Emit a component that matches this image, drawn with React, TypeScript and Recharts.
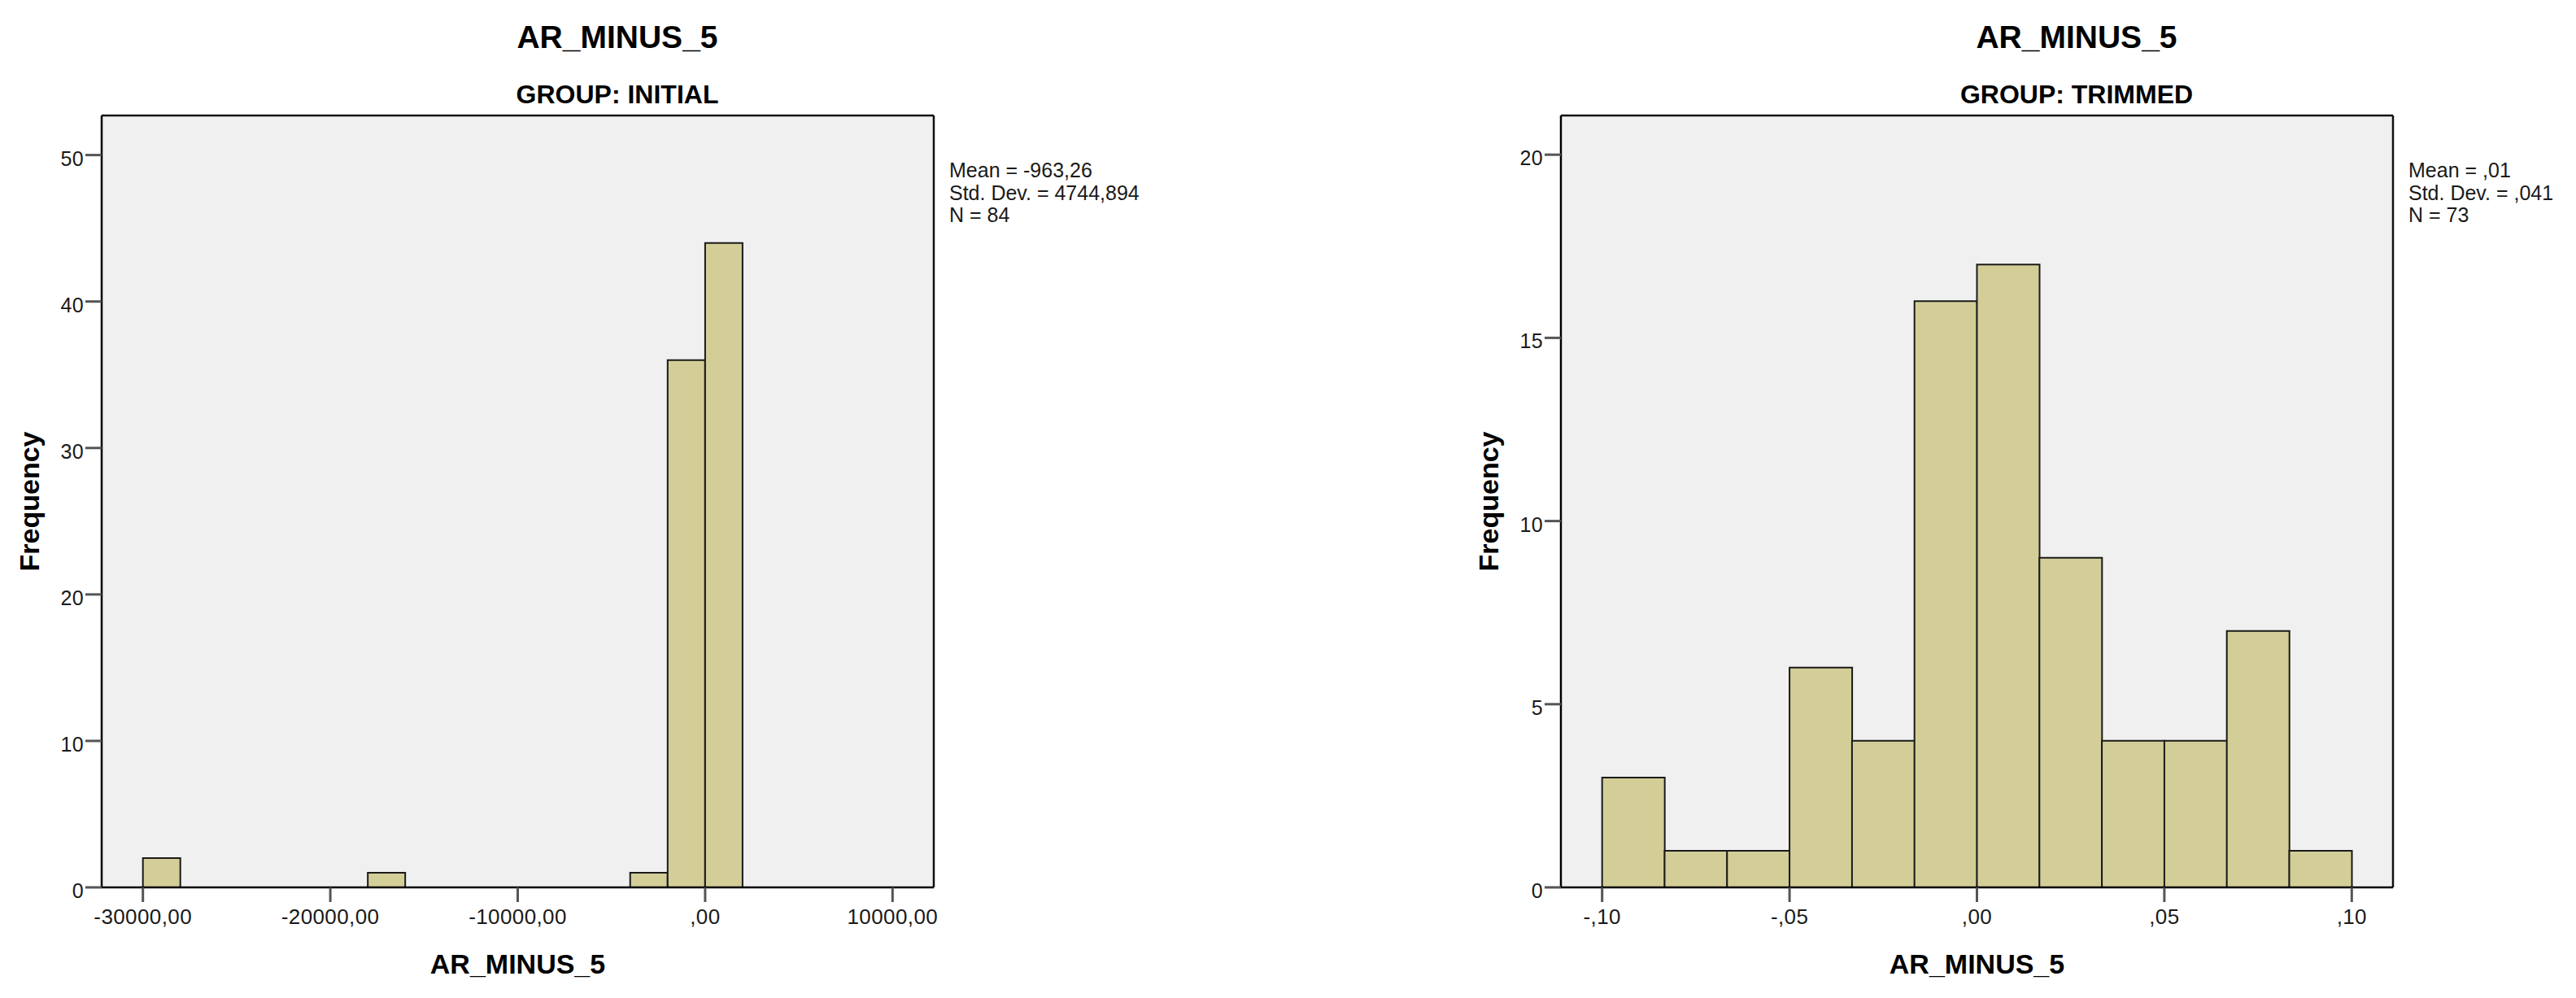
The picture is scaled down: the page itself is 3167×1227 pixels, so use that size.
import React from 'react';
import { BarChart, Bar, XAxis, YAxis, CartesianGrid } from 'recharts';

// ---- Data: GROUP INITIAL ----
const initialBinCenters = [-29000, -27000, -25000, -23000, -21000, -19000, -17000, -15000, -13000, -11000, -9000, -7000, -5000, -3000, -1000, 1000];
const initialCounts = [2, 0, 0, 0, 0, 0, 1, 0, 0, 0, 0, 0, 0, 1, 36, 44];
const initialXTicks = [-30000, -20000, -10000, 0, 10000];
const initialYTicks = [0, 10, 20, 30, 40, 50];
const initialStats = ['Mean = -963,26', 'Std. Dev. = 4744,894', 'N = 84'];

// ---- Data: GROUP TRIMMED ----
const trimmedBinCenters = [-0.091667, -0.075, -0.058333, -0.041667, -0.025, -0.008333, 0.008333, 0.025, 0.041667, 0.058333, 0.075, 0.091667];
const trimmedCounts = [3, 1, 1, 6, 4, 16, 17, 9, 4, 4, 7, 1];
const trimmedXTicks = [-0.1, -0.05, 0, 0.05, 0.1];
const trimmedYTicks = [0, 5, 10, 15, 20];
const trimmedStats = ['Mean = ,01', 'Std. Dev. = ,041', 'N = 73'];

const W = 1560;
const H = 1227;
const PLOT_L = 125;
const PLOT_T = 142;
const PLOT_R = 1148;
const PLOT_B = 1091;
const XAXIS_H = 60;
const FONT = '"Liberation Sans", Arial, Helvetica, sans-serif';

function spssFormat(v: number, decimals: number): string {
  const neg = v < 0 && Math.abs(v) > 1e-12;
  let s = Math.abs(v).toFixed(decimals).replace('.', ',');
  if (s.startsWith('0,')) s = s.slice(1);
  return (neg ? '-' : '') + s;
}

function XTick(props: any) {
  const { x, y, payload, decimals } = props;
  return (
    <text x={x} y={y + 27} textAnchor="middle" fontFamily={FONT} fontSize={26} fill="#1a1a1a" letterSpacing={0.4}>
      {spssFormat(payload.value, decimals)}
    </text>
  );
}

function YTick(props: any) {
  const { x, y, payload } = props;
  return (
    <text x={x} y={y + 13} textAnchor="end" fontFamily={FONT} fontSize={25} fill="#1a1a1a" letterSpacing={0.4}>
      {String(payload.value)}
    </text>
  );
}

type HistProps = {
  left: number;
  centers: number[];
  counts: number[];
  xDomain: [number, number];
  yDomain: [number, number];
  xTicks: number[];
  yTicks: number[];
  decimals: number;
  subtitle: string;
  stats: string[];
};

function Histogram(p: HistProps) {
  const data = p.centers.map((c, i) => ({ x: c, count: p.counts[i] }));
  const plotCx = (PLOT_L + PLOT_R) / 2;
  const plotCy = (PLOT_T + PLOT_B) / 2;
  return (
    <div style={{ position: 'absolute', left: p.left, top: 0, width: W, height: H }}>
      <BarChart
        width={W}
        height={H}
        data={data}
        margin={{ top: PLOT_T, right: W - PLOT_R, bottom: H - PLOT_B - XAXIS_H, left: 0 }}
        barCategoryGap={0}
        barGap={0}
      >
        <CartesianGrid
          fill="#F0F0F0"
          stroke="#111"
          strokeWidth={2.5}
          horizontalPoints={[PLOT_T]}
          verticalPoints={[PLOT_R]}
        />
        <XAxis
          dataKey="x"
          type="number"
          domain={p.xDomain}
          allowDataOverflow
          ticks={p.xTicks}
          interval={0}
          height={XAXIS_H}
          tickSize={18}
          tickMargin={0}
          axisLine={{ stroke: '#000', strokeWidth: 2.5 }}
          tickLine={{ stroke: '#555', strokeWidth: 3 }}
          tick={<XTick decimals={p.decimals} />}
        />
        <YAxis
          type="number"
          domain={p.yDomain}
          allowDataOverflow
          ticks={p.yTicks}
          interval={0}
          width={PLOT_L}
          tickSize={20}
          tickMargin={2}
          axisLine={{ stroke: '#000', strokeWidth: 2.5 }}
          tickLine={{ stroke: '#555', strokeWidth: 3 }}
          tick={<YTick />}
        />
        <Bar dataKey="count" fill="#D3CE97" stroke="#1a1a1a" strokeWidth={2} isAnimationActive={false} />
      </BarChart>
      <svg width={W} height={H} style={{ position: 'absolute', left: 0, top: 0, pointerEvents: 'none' }}>
        <text x={759} y={59} textAnchor="middle" fontFamily={FONT} fontWeight="bold" fontSize={39} fill="#000">
          AR_MINUS_5
        </text>
        <text x={759} y={127} textAnchor="middle" fontFamily={FONT} fontWeight="bold" fontSize={32} fill="#000">
          {p.subtitle}
        </text>
        <text x={plotCx} y={1197} textAnchor="middle" fontFamily={FONT} fontWeight="bold" fontSize={34} fill="#000">
          AR_MINUS_5
        </text>
        <text
          x={0}
          y={0}
          transform={`translate(48, ${plotCy}) rotate(-90)`}
          textAnchor="middle"
          fontFamily={FONT}
          fontWeight="bold"
          fontSize={34}
          fill="#000"
        >
          Frequency
        </text>
        {p.stats.map((s, i) => (
          <text key={i} x={1167} y={218 + i * 27.5} fontFamily={FONT} fontSize={25} fill="#1a1a1a">
            {s}
          </text>
        ))}
      </svg>
    </div>
  );
}

export default function App() {
  return (
    <div style={{ position: 'absolute', left: 0, top: 0, width: 3167, height: 1227, background: '#fff', overflow: 'hidden' }}>
      <Histogram
        left={0}
        centers={initialBinCenters}
        counts={initialCounts}
        xDomain={[-32200, 12200]}
        yDomain={[0, 52.7]}
        xTicks={initialXTicks}
        yTicks={initialYTicks}
        decimals={2}
        subtitle="GROUP: INITIAL"
        stats={initialStats}
      />
      <Histogram
        left={1794}
        centers={trimmedBinCenters}
        counts={trimmedCounts}
        xDomain={[-0.111, 0.111]}
        yDomain={[0, 21.07]}
        xTicks={trimmedXTicks}
        yTicks={trimmedYTicks}
        decimals={2}
        subtitle="GROUP: TRIMMED"
        stats={trimmedStats}
      />
    </div>
  );
}
